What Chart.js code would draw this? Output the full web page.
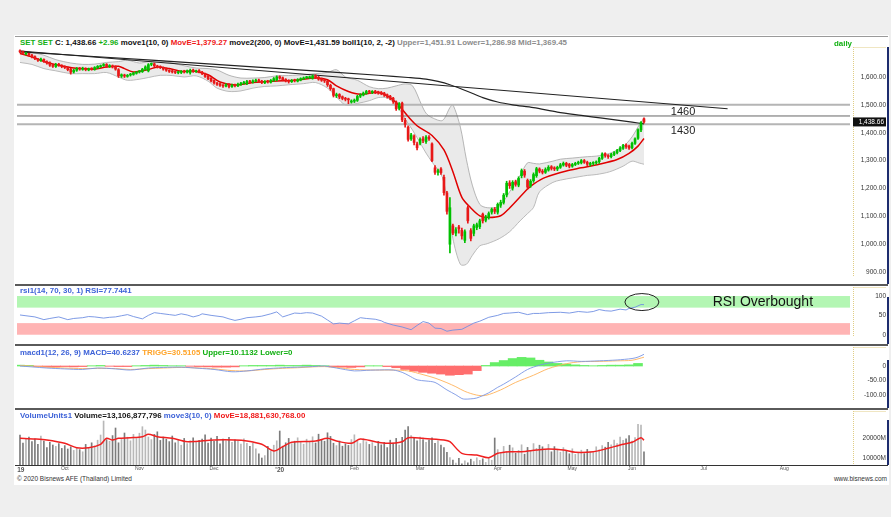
<!DOCTYPE html>
<html>
<head>
<meta charset="utf-8">
<script src="https://cdn.jsdelivr.net/npm/chart.js@4.4.0/dist/chart.umd.min.js"></script>
<style>
body { margin:0; width:891px; height:517px; background:#efefef; position:relative; overflow:hidden; font-family:"Liberation Sans", Arial, sans-serif; }
#sheet { position:absolute; left:14px; top:35px; width:875px; height:450px; background:#fff; }
canvas { position:absolute; left:17px; }
.hdr { position:absolute; left:20px; font-size:7.9px; font-weight:bold; white-space:nowrap; line-height:9px; color:#111; z-index:3; }
.g { color:#12b012; } .r { color:#f01818; } .gr { color:#8c8c8c; } .b { color:#3d62d8; } .o { color:#ffa326; }
.sep { position:absolute; left:15px; width:873px; background:#5a5a5a; z-index:2; }
.navy { position:absolute; left:887px; width:2px; background:#1d2c6e; z-index:2; }
.foot { position:absolute; top:475px; font-size:6.5px; color:#333; white-space:nowrap; }
</style>
</head>
<body>
<div id="sheet"></div>

<div class="hdr" style="top:38px"><span class="g">SET SET</span> C: 1,438.66 <span class="g">+2.96</span> move1(10, 0) <span class="r">MovE=1,379.27</span> move2(200, 0) MovE=1,431.59 boll1(10, 2, -2) <span class="gr">Upper=1,451.91 Lower=1,286.98 Mid=1,369.45</span></div>
<div class="hdr g" style="top:39px; left:834px">daily</div>
<div class="hdr b" style="top:286px">rsi1(14, 70, 30, 1) RSI=77.7441</div>
<div class="hdr" style="top:348px"><span class="b">macd1(12, 26, 9) MACD=40.6237</span> <span class="o">TRIGG=30.5105</span> <span class="g">Upper=10.1132 Lower=0</span></div>
<div class="hdr" style="top:411px"><span class="b">VolumeUnits1</span> Volume=13,106,877,796 <span class="b">move3(10, 0)</span> <span class="r">MovE=18,881,630,768.00</span></div>

<canvas id="priceChart" width="869" height="237" style="top:47px"></canvas>
<canvas id="rsiChart" width="869" height="57" style="top:287px"></canvas>
<canvas id="macdChart" width="869" height="61" style="top:347px"></canvas>
<canvas id="volChart" width="869" height="62" style="top:411px"></canvas>

<div class="sep" style="top:36px; height:1px; background:#9a9a9a"></div>
<div class="sep" style="top:284px; height:2px"></div>
<div class="sep" style="top:344px; height:2px"></div>
<div class="sep" style="top:408px; height:2px"></div>
<div class="sep" style="top:465px; height:1px; background:#333"></div>
<div class="navy" style="top:47px; height:237px"></div>
<div class="navy" style="top:297px; height:47px"></div>
<div class="navy" style="top:360px; height:48px"></div>
<div class="navy" style="top:420px; height:45px"></div>

<div class="foot" style="left:17px">© 2020 Bisnews AFE (Thailand) Limited</div>
<div class="foot" style="right:4px">www.bisnews.com</div>

<script>
// daily SET candles, index 0 = first bar on the chart
const priceOpen = [
  1694,1690,1682,1684,1678,1673,1664,1659,1663,1655, 1651,1641,1637,1646,1640,1636,1633,1628,1618,1624,
  1631,1627,1630,1625,1630,1627,1633,1637,1641,1645, 1637,1640,1637,1626,1603,1607,1602,1607,1609,1613,
  1618,1619,1627,1622,1645,1647,1639,1637,1633,1629, 1623,1621,1617,1615,1616,1621,1617,1615,1625,1619,
  1623,1617,1611,1603,1595,1587,1578,1575,1569,1567, 1573,1565,1571,1568,1573,1577,1576,1585,1581,1585,
  1589,1585,1579,1585,1581,1587,1590,1601,1597,1591, 1587,1583,1589,1585,1589,1593,1597,1597,1596,1604,
  1599,1593,1589,1585,1570,1558,1533,1537,1529,1522, 1519,1510,1513,1516,1531,1535,1541,1549,1545,1549,
  1546,1545,1542,1536,1531,1524,1510,1488,1506,1444, 1420,1378,1388,1360,1362,1378,1368,1384,1360,1274,
  1258,1270,1240,1184,1000,1066,1040,1062,1050,1014, 1131,1049,1039,1060,1063,1108,1086,1096,1115,1126,
  1115,1140,1150,1177,1220,1201,1224,1212,1246,1262, 1229,1210,1228,1246,1270,1262,1258,1266,1278,1274,
  1270,1276,1284,1290,1286,1280,1286,1290,1292,1300, 1294,1286,1290,1292,1296,1308,1325,1318,1314,1322,
  1328,1336,1344,1356,1352,1346,1362,1380,1410,1450
];
const priceHigh = [
  1697,1693,1688,1686,1681,1676,1667,1668,1665,1658, 1654,1645,1649,1649,1644,1640,1636,1631,1628,1634,
  1634,1635,1633,1632,1633,1637,1641,1643,1648,1648, 1644,1643,1640,1630,1611,1610,1609,1613,1617,1620,
  1623,1631,1640,1648,1650,1650,1642,1640,1636,1632, 1626,1624,1620,1621,1623,1624,1625,1628,1628,1625,
  1626,1620,1614,1606,1598,1590,1581,1578,1573,1576, 1576,1574,1574,1578,1581,1584,1588,1588,1590,1592,
  1592,1588,1587,1588,1591,1598,1604,1604,1600,1594, 1590,1591,1592,1594,1597,1600,1602,1603,1607,1608,
  1602,1596,1592,1588,1574,1560,1542,1540,1532,1527, 1524,1518,1521,1534,1540,1546,1552,1552,1551,1552,
  1549,1548,1545,1539,1534,1527,1514,1508,1510,1452, 1425,1398,1392,1366,1382,1386,1390,1390,1364,1282,
  1270,1275,1248,1190,1167,1072,1060,1068,1058,1052, 1138,1056,1072,1076,1090,1112,1104,1116,1130,1132,
  1148,1158,1182,1226,1228,1228,1230,1242,1270,1268, 1234,1232,1256,1276,1274,1268,1274,1282,1282,1278,
  1280,1290,1295,1294,1290,1290,1294,1298,1304,1304, 1298,1294,1296,1299,1312,1328,1328,1322,1326,1332,
  1340,1350,1358,1360,1356,1366,1382,1414,1440,1453
];
const priceLow = [
  1686,1682,1679,1675,1668,1662,1656,1656,1652,1646, 1638,1634,1634,1638,1633,1630,1622,1610,1614,1620,
  1624,1624,1622,1622,1624,1624,1630,1634,1638,1634, 1634,1632,1624,1598,1598,1598,1599,1603,1606,1610,
  1614,1616,1624,1618,1640,1636,1632,1630,1624,1620, 1616,1614,1612,1611,1612,1614,1614,1610,1616,1616,
  1614,1608,1598,1590,1582,1574,1570,1566,1562,1564, 1561,1562,1564,1565,1570,1574,1572,1578,1578,1582,
  1580,1576,1576,1578,1578,1584,1586,1592,1586,1582, 1578,1580,1582,1582,1586,1590,1594,1594,1592,1594,
  1588,1584,1580,1566,1552,1528,1526,1522,1518,1514, 1504,1506,1508,1512,1526,1532,1538,1540,1540,1540,
  1538,1536,1530,1524,1518,1505,1480,1482,1440,1420, 1370,1372,1356,1338,1356,1364,1362,1372,1296,1250,
  1248,1250,1176,1108,969,1034,1030,1040,1018,1006, 1076,1012,1030,1052,1056,1076,1080,1090,1108,1110,
  1108,1132,1144,1170,1200,1194,1208,1206,1238,1240, 1198,1204,1222,1240,1256,1252,1254,1262,1266,1264,
  1264,1272,1280,1278,1274,1276,1282,1286,1288,1290, 1282,1280,1284,1287,1290,1304,1312,1308,1310,1318,
  1324,1332,1340,1344,1340,1342,1358,1376,1404,1434
];
const priceClose = [
  1690,1686,1683,1679,1672,1666,1660,1664,1656,1650, 1642,1638,1645,1642,1637,1634,1626,1617,1624,1630,
  1628,1631,1626,1629,1628,1634,1638,1640,1644,1638, 1641,1636,1628,1604,1608,1603,1606,1610,1614,1617,
  1620,1628,1636,1644,1646,1640,1636,1634,1628,1624, 1620,1618,1616,1617,1620,1618,1622,1624,1620,1622,
  1618,1612,1602,1594,1586,1579,1574,1570,1568,1572, 1566,1570,1569,1574,1578,1580,1584,1582,1586,1588,
  1584,1580,1584,1582,1588,1594,1600,1596,1590,1586, 1584,1588,1586,1590,1594,1596,1598,1600,1603,1598,
  1592,1588,1586,1572,1558,1534,1536,1528,1523,1520, 1518,1514,1517,1530,1536,1542,1548,1546,1548,1545,
  1544,1541,1535,1530,1524,1512,1486,1504,1446,1430, 1376,1392,1365,1346,1376,1372,1384,1378,1300,1258,
  1264,1257,1185,1118,1131,1040,1052,1055,1030,1045, 1084,1021,1066,1070,1084,1084,1098,1110,1125,1118,
  1143,1150,1176,1219,1210,1222,1215,1236,1264,1248, 1205,1226,1250,1271,1262,1258,1268,1276,1272,1270,
  1276,1285,1290,1283,1280,1286,1290,1294,1300,1294, 1287,1290,1292,1295,1308,1324,1318,1314,1322,1328,
  1336,1345,1354,1350,1345,1362,1378,1410,1436,1438.66
];
// volume in millions of shares
const volume = [
  21500,17500,19800,20500,18200,19600,16800,21000,18500,15200, 17800,16500,15800,17200,14800,16200,14500,15600,13800,15100,
  14200,13100,16800,15200,17600,16100,18900,21500,28500,19200, 18400,21200,25000,17600,19300,22500,20400,18600,21800,19700,
  22400,25650,24000,20500,19200,21800,23100,18800,20500,19400, 18200,21000,17600,18900,16400,19800,17200,18600,20100,17900,
  18800,19400,21600,17500,19900,18300,20800,17100,19500,18600, 20300,17800,19100,18400,16900,19600,17300,15800,17400,14600,
  12100,10000,11200,15800,13400,16400,18600,23500,15900,17600, 19800,17200,18400,20100,17800,16900,19400,18200,20600,17500,
  21900,19300,18400,22600,20800,17400,16200,18500,15900,17100, 16300,19200,21600,18400,17200,19600,18100,16800,17700,15900,
  18300,16600,17800,15200,18900,17400,19800,16400,20300,24000, 25650,21200,19800,18600,20400,19200,17800,18900,20100,17300,
  18600,16400,15200,12800,10200,8900,7400,9800,7100,8600, 7600,9400,8200,10100,8800,9600,7800,10400,8900,20000,
  14200,12600,15800,13200,16400,15100,12400,13800,16600,11900, 15300,13600,17200,14800,16400,15600,14200,16800,13100,15700,
  14400,12900,15200,13800,12100,14600,11800,12500,13900,12200, 14300,13100,12700,15600,14100,16200,15400,17800,16600,18900,
  17200,20400,18800,19600,21200,18400,20200,26850,26500,13107
];

// [bar index, value]
const ma10Points = [[0,1684],[5,1668],[9,1652],[14,1640],[18,1632],[21,1630],[25,1628],[29,1636],[33,1638],[35,1630],[38,1618],[43,1626],[46,1636],[50,1630],[54,1620],[58,1621],[63,1608],[67,1582],[72,1571],[78,1580],[85,1585],[92,1588],[99,1596],[103,1590],[106,1568],[110,1548],[114,1538],[119,1544],[122,1538],[126,1508],[130,1458],[133,1425],[138,1390],[142,1338],[145,1260],[148,1168],[151,1130],[154,1102],[157,1096],[161,1102],[164,1130],[170,1198],[172,1216],[176,1240],[183,1263],[188,1274],[194,1287],[200,1304],[204,1326],[207,1352],[209,1379.27]];
const ma200Points = [[0,1690],[44,1660],[87,1630],[120,1606],[130,1598],[136,1592],[140,1584],[144,1572],[150,1548],[155,1526],[160,1510],[165,1500],[172,1490],[180,1474],[188,1462],[195,1452],[200,1445],[205,1438],[209,1431.59]];
const bollIdx = [0,4,8,12,17,21,25,29,33,36,40,43,47,51,55,59,63,66,70,74,78,82,86,90,95,99,103,106,109,113,117,120,123,126,129,131.5,134.5,136,138,141.5,144,145,147.5,149.5,151.5,154,156.5,160.5,164,167.5,170,172,174,178.5,181,185,190,193,197.5,202,205,207.5,209];
const bollUpper = [1694,1688,1678,1662,1650,1645,1646,1652,1655,1660,1650,1655,1658,1650,1640,1632,1630,1625,1606,1596,1596,1598,1604,1605,1608,1612,1616,1626,1600,1588,1565,1558,1560,1568,1575,1568,1500,1470,1454,1444,1490,1500,1420,1305,1212,1143,1131,1136,1188,1247,1292,1290,1288,1298,1305,1309,1314,1316,1326,1350,1385,1430,1451.91];
const bollLower = [1652,1645,1630,1622,1612,1612,1612,1616,1600,1588,1592,1598,1606,1605,1600,1604,1585,1560,1548,1550,1560,1566,1568,1572,1576,1580,1560,1528,1500,1505,1515,1526,1525,1500,1450,1409,1355,1327,1295,1240,1097,1020,928,928,960,994,1002,1020,1045,1084,1110,1132,1188,1222,1230,1238,1247,1250,1260,1280,1298,1291,1286.98];
const trendPoints = [[0,1693],[237,1486]];
const levels = [1500, 1460, 1430];

const rsiPoints = [[0,51],[2,49],[5,46],[8,39],[10,42],[13,46],[16,39],[18,42],[21,44],[23,47],[25,46],[28,43],[30,45],[32,46],[34,49],[36,52],[38,47],[41,41],[43,50],[45,57],[47,55],[50,52],[52,50],[54,54],[56,51],[58,46],[60,50],[61,54],[64,50],[68,46],[70,41],[72,37],[74,40],[76,44],[79,46],[81,48],[84,54],[86,59],[88,46],[90,51],[92,56],[94,55],[96,57],[98,56],[101,48],[103,38],[105,28],[107,30],[110,28],[112,36],[114,44],[116,42],[119,40],[121,36],[122,32],[125,25],[128,20],[131,13],[133,24],[135,34],[137,30],[139,17],[141,16],[143,9],[145,12],[148,14],[150,22],[152,30],[154,35],[157,45],[160,50],[162,55],[164,56],[167,58],[170,52],[172,55],[174,55],[177,57],[181,58],[184,56],[187,60],[190,58],[192,60],[194,65],[196,62],[198,61],[201,66],[203,64],[204,68],[206,71],[208,78],[209,77.74]];

const macdPoints = [[0,0],[4,-3],[9,-7],[15,-10],[21,-12],[26,-7],[32,-10],[37,-14],[43,-7],[48,-5],[54,-4],[60,-8],[65,-12],[71,-20],[76,-17],[82,-10],[88,-6],[93,-4],[98,-2],[102,0],[106,-7],[112,-17],[116,-15],[119,-14],[125,-14],[128,-22],[130,-32],[133,-48],[136,-52],[139,-57],[143,-83],[146,-100],[148,-113],[149,-115],[151,-114],[153,-111],[157,-93],[160,-74],[162,-63],[166,-38],[170,-12],[174,3],[177,10],[183,18],[188,16],[194,18],[200,21],[205,26],[207,31],[209,40.62]];
const signalPoints = [[0,2],[5,-1],[9,-4],[15,-7],[21,-9],[26,-8],[32,-9],[37,-12],[43,-9],[48,-7],[54,-5],[60,-7],[65,-10],[71,-16],[76,-17],[82,-12],[88,-8],[93,-6],[98,-3],[102,-2],[106,-5],[112,-12],[119,-14],[125,-14],[130,-17],[135,-30],[139,-42],[143,-58],[146,-72],[149,-88],[153,-101],[156,-102],[161,-83],[166,-57],[172,-32],[177,-9],[183,8],[188,15],[194,16],[200,18],[205,20],[209,30.51]];
// histogram sampled every 3 bars (0, 3, 6 ... 207)
const histValues = [3,2,-2,-3,-3,-2,-3,-2,1,2, -1,-2,-2,1,2,3,2,1,1,-1, -2,-3,-4,-4,-3,1,2,2,2,3, 2,2,3,2,1,-3,-4,-5,-3,1, 1,-2,-6,-12,-18,-22,-25,-28,-32,-30, -28,-16,2,12,19,26,30,28,20,14, 9,7,4,2,1,2,3,3,4,9];

const volMaPoints = [[0,19850],[5,19500],[9,19000],[15,17350],[19,15150],[23,15150],[27,16850],[29,19850],[31,19000],[33,19850],[37,20150],[41,20650],[43,21850],[46,20650],[51,19850],[56,18150],[65,19000],[72,19000],[76,18500],[81,16850],[85,13500],[88,15650],[91,17850],[99,18500],[103,19850],[106,18500],[111,17350],[114,19500],[119,18150],[123,17350],[128,18150],[130,20150],[135,19850],[142,19000],[144,18150],[148,12350],[153,11500],[157,10150],[160,12350],[164,13150],[168,13150],[173,14000],[177,14500],[182,14000],[186,12850],[192,13150],[197,14850],[201,16500],[205,17850],[208,20150],[209,18881]];

const priceTicks = [900, 1000, 1100, 1200, 1300, 1400, 1500, 1600];
const rsiTicks = [0, 50, 100];
const macdTicks = [-100, -50, 0];
const volTicks = [10000, 20000];
const xLabelIdx = [0, 15, 40, 65, 87, 112, 134, 160, 185, 205, 229, 256];
const xLabelText = ["'19", "Oct", "Nov", "Dec", "'20", "Feb", "Mar", "Apr", "May", "Jun", "Jul", "Aug"];

Chart.defaults.font.family = '"Liberation Sans", Arial, sans-serif';

const GREEN = '#00c000', RED = '#e81818';
const upDay = priceClose.map((c, i) => c >= priceOpen[i]);

function pts(pairs) { return pairs.map(p => ({ x: p[0], y: p[1] })); }

function lineDs(data, color, width, extra) {
    return Object.assign({
        type: 'line', data: data, borderColor: color, borderWidth: width,
        pointRadius: 0, fill: false, tension: 0
    }, extra || {});
}

function yAxis(min, max, ticks, fmt) {
    return {
        type: 'linear', position: 'right', min: min, max: max,
        grid: { display: false }, border: { display: false },
        afterBuildTicks: s => { s.ticks = ticks.map(v => ({ value: v })); },
        afterFit: s => { s.width = 36; s.paddingTop = 0; s.paddingBottom = 0; },
        ticks: { callback: fmt, color: '#333', font: { size: 6.5 }, padding: 2, crossAlign: 'far' }
    };
}

function xAxis(show) {
    return {
        type: 'linear', min: -1, max: 278, offset: false, display: show,
        grid: { display: false, drawTicks: false }, border: { display: false },
        afterBuildTicks: s => { s.ticks = xLabelIdx.map(v => ({ value: v })); },
        afterFit: s => { s.height = 8; s.paddingLeft = 0; s.paddingRight = 0; },
        ticks: {
            autoSkip: false, maxRotation: 0, padding: 1, color: '#555',
            font: c => (c.tick && String(c.tick.label).startsWith("'")) ? { size: 6.5, weight: 'bold' } : { size: 5 },
            callback: v => xLabelText[xLabelIdx.indexOf(v)]
        }
    };
}

function baseOptions(yCfg, showX) {
    return {
        responsive: false, animation: false, devicePixelRatio: 1,
        layout: { padding: 0 },
        plugins: { legend: { display: false }, tooltip: { enabled: false } },
        scales: { x: xAxis(showX), y: yCfg }
    };
}

// dotted axis-box edge like the original terminal
const axisBox = {
    id: 'axisBox',
    afterDraw(chart) {
        const { ctx, chartArea: a } = chart;
        const x0 = Math.round(a.right) + 3.5;
        ctx.save();
        ctx.strokeStyle = '#e0cd84';
        ctx.lineWidth = 1;
        ctx.setLineDash([1, 1]);
        ctx.beginPath();
        ctx.moveTo(x0, a.top);
        ctx.lineTo(x0, a.bottom);
        ctx.moveTo(x0, a.top + 0.5);
        ctx.lineTo(chart.width, a.top + 0.5);
        ctx.stroke();
        ctx.restore();
    }
};

const priceDecor = {
    id: 'priceDecor',
    afterDatasetsDraw(chart) {
        const { ctx, scales: { x, y } } = chart;
        ctx.save();
        ctx.font = '11px "Liberation Sans", Arial';
        ctx.fillStyle = '#222';
        ctx.textAlign = 'left';
        ctx.textBaseline = 'bottom';
        ctx.fillText('1460', x.getPixelForValue(218), y.getPixelForValue(1460) + 1);
        ctx.textBaseline = 'top';
        ctx.fillText('1430', x.getPixelForValue(218), y.getPixelForValue(1430) + 1.5);
        ctx.restore();
    },
    afterDraw(chart) {
        const { ctx, chartArea: a, scales: { y } } = chart;
        const last = priceClose[priceClose.length - 1];
        const py = y.getPixelForValue(last);
        ctx.save();
        ctx.fillStyle = '#111';
        ctx.fillRect(a.right + 3, py - 4.5, 33, 9);
        ctx.fillStyle = '#fff';
        ctx.font = '6.5px "Liberation Sans", Arial';
        ctx.textAlign = 'right';
        ctx.textBaseline = 'middle';
        ctx.fillText(last.toLocaleString('en-US', { minimumFractionDigits: 2 }), a.right + 34, py);
        ctx.restore();
    }
};

const rsiDecor = {
    id: 'rsiDecor',
    beforeDatasetsDraw(chart) {
        const { ctx, chartArea: a, scales: { y } } = chart;
        ctx.save();
        ctx.fillStyle = '#b3f6b3';
        ctx.fillRect(a.left, y.getPixelForValue(100), a.width, y.getPixelForValue(70) - y.getPixelForValue(100));
        ctx.fillStyle = '#ffb4b4';
        ctx.fillRect(a.left, y.getPixelForValue(30), a.width, y.getPixelForValue(0) - y.getPixelForValue(30));
        ctx.restore();
    },
    afterDatasetsDraw(chart) {
        const { ctx, scales: { x, y } } = chart;
        ctx.save();
        ctx.strokeStyle = '#222';
        ctx.lineWidth = 1;
        ctx.beginPath();
        ctx.ellipse(x.getPixelForValue(208.3), y.getPixelForValue(84.4), 17, 8.5, 0, 0, Math.PI * 2);
        ctx.stroke();
        ctx.font = '14px "Liberation Sans", Arial';
        ctx.fillStyle = '#111';
        ctx.textAlign = 'left';
        ctx.textBaseline = 'middle';
        ctx.fillText('RSI Overbought', x.getPixelForValue(232), y.getPixelForValue(85));
        ctx.restore();
    }
};

// price panel
const candleBodies = priceOpen.map((o, i) => ({ x: i, y: [o, priceClose[i]] }));
const candleWicks = priceLow.map((l, i) => ({ x: i, y: [l, priceHigh[i]] }));
const candleColors = upDay.map(u => u ? GREEN : RED);
const levelColors = ['#b5b5b5', '#666', '#b5b5b5'];
const levelWidths = [2, 1, 2];

new Chart(document.getElementById('priceChart'), {
    type: 'bar',
    data: {
        datasets: [
            lineDs(pts(bollIdx.map((v, i) => [v, bollUpper[i]])), '#a5a5a5', 0.8,
                { fill: '+1', backgroundColor: 'rgba(200,200,200,0.38)', tension: 0.3, order: 10 }),
            lineDs(pts(bollIdx.map((v, i) => [v, bollLower[i]])), '#a5a5a5', 0.8, { tension: 0.3, order: 10 }),
            ...levels.map((lv, k) => lineDs([{ x: -1, y: lv }, { x: 278, y: lv }], levelColors[k], levelWidths[k], { order: 9 })),
            lineDs(pts(trendPoints), '#222', 1.2, { order: 8 }),
            lineDs(pts(ma200Points), '#222', 1.2, { tension: 0.3, order: 8 }),
            lineDs(pts(ma10Points), '#e00000', 1.5, { tension: 0.3, order: 6 }),
            { type: 'bar', data: candleWicks, backgroundColor: candleColors, barThickness: 1, grouped: false, order: 5 },
            { type: 'bar', data: candleBodies, backgroundColor: candleColors, barThickness: 2, minBarLength: 1, grouped: false, order: 4 }
        ]
    },
    options: baseOptions(yAxis(886.1, 1707.4, priceTicks, v => v.toLocaleString('en-US', { minimumFractionDigits: 2 })), false),
    plugins: [axisBox, priceDecor]
});

// rsi panel
new Chart(document.getElementById('rsiChart'), {
    type: 'line',
    data: { datasets: [lineDs(pts(rsiPoints), '#6f8fe2', 0.9)] },
    options: baseOptions(yAxis(-3.3, 123.3, rsiTicks, v => String(v)), false),
    plugins: [axisBox, rsiDecor]
});

// macd panel
const histData = histValues.map((v, k) => ({ x: k * 3, y: v }));
new Chart(document.getElementById('macdChart'), {
    type: 'bar',
    data: {
        datasets: [
            lineDs(pts(macdPoints), '#7a96e4', 0.9, { tension: 0.3, order: 1 }),
            lineDs(pts(signalPoints), '#ffb25a', 0.9, { tension: 0.3, order: 2 }),
            { type: 'bar', data: histData, backgroundColor: histValues.map(v => v >= 0 ? '#66ee66' : '#ff6e6e'),
              barPercentage: 1, categoryPercentage: 1, grouped: false, order: 3 }
        ]
    },
    options: baseOptions(yAxis(-118, 66, macdTicks, v => v === 0 ? '0' : v.toFixed(2)), false),
    plugins: [axisBox]
});

// volume panel
new Chart(document.getElementById('volChart'), {
    type: 'bar',
    data: {
        datasets: [
            lineDs(pts(volMaPoints), '#f02020', 1.5, { tension: 0.3, order: 1 }),
            { type: 'bar', data: volume.map((v, i) => ({ x: i, y: v })), backgroundColor: upDay.map(u => u ? '#b8b8b8' : '#7c7c7c'),
              barThickness: 1, grouped: false, order: 2 }
        ]
    },
    options: baseOptions(yAxis(6500, 33500, volTicks, v => v + 'M'), true),
    plugins: [axisBox]
});
</script>
</body>
</html>
